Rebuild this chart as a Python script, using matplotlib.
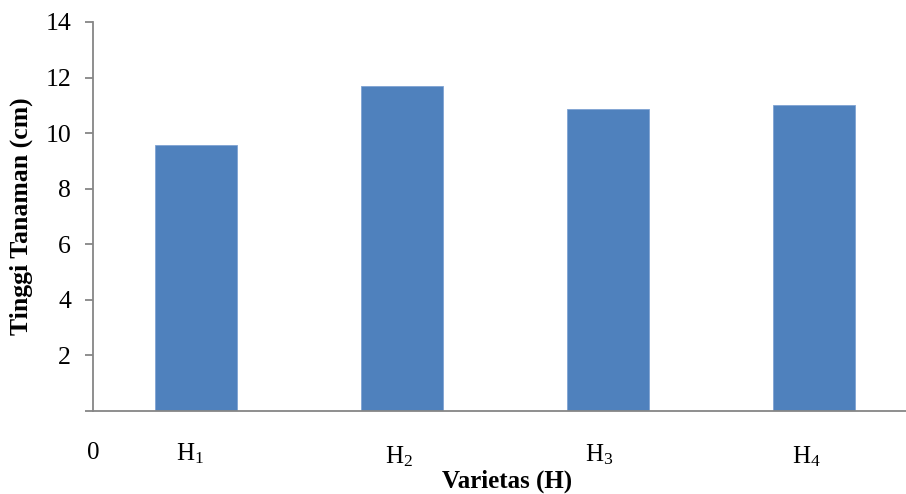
import matplotlib
matplotlib.use("Agg")
import matplotlib.pyplot as plt

plt.rcParams["font.family"] = ["Liberation Serif", "DejaVu Serif"]
plt.rcParams["mathtext.fontset"] = "custom"
plt.rcParams["mathtext.rm"] = "Liberation Serif"
plt.rcParams["mathtext.it"] = "Liberation Serif:italic"

# data
varietas = ["H$_{1}$", "H$_{2}$", "H$_{3}$", "H$_{4}$"]
tinggi = [9.57, 11.70, 10.87, 11.00]
y_ticks = [2, 4, 6, 8, 10, 12, 14]

# label layout (pixel offsets below the axis line)
label_dx = [-6, -3, -9, -8]
label_dy = [-30, -33, -31, -33]

BAR = "#4F81BD"
AXIS = "#868686"

fig = plt.figure(figsize=(9.06, 4.94), dpi=100)
ax = fig.add_axes([93 / 906, 83 / 494, 824 / 906, 389 / 494])

x = list(range(len(varietas)))
ax.bar(x, tinggi, width=0.40, color=BAR, edgecolor="#7FA3D3", linewidth=0.6, zorder=2)

ax.set_xlim(-0.5, 3.5)
ax.set_ylim(0, 14)
ax.set_yticks([0] + y_ticks)
ax.set_yticklabels([""] + [str(v) for v in y_ticks], fontsize=18.5)
ax.set_xticks([])

for s in ["top", "right"]:
    ax.spines[s].set_visible(False)
for s in ["left", "bottom"]:
    ax.spines[s].set_color(AXIS)
    ax.spines[s].set_linewidth(1.3)
ax.tick_params(axis="y", direction="out", length=5.8, width=1.3, color=AXIS, pad=10)

# category labels, slightly staggered
for i, lab in enumerate(varietas):
    ax.annotate(lab, xy=(i, 0), xycoords=("data", "axes fraction"),
                xytext=(label_dx[i], label_dy[i]), textcoords="offset pixels",
                ha="center", va="top", fontsize=18)

ax.annotate("0", xy=(0, 0), xycoords="axes fraction", xytext=(0, -31),
            textcoords="offset pixels", ha="center", va="top", fontsize=18)

ax.set_ylabel("Tinggi Tanaman (cm)", fontsize=18.5, fontweight="bold")
ax.yaxis.set_label_coords(-60 / 824, 0.5)
fig.text(507 / 906, 1 / 494, "Varietas (H)", ha="center", va="bottom",
         fontsize=18, fontweight="bold")

fig.savefig("out.png", dpi=100)
